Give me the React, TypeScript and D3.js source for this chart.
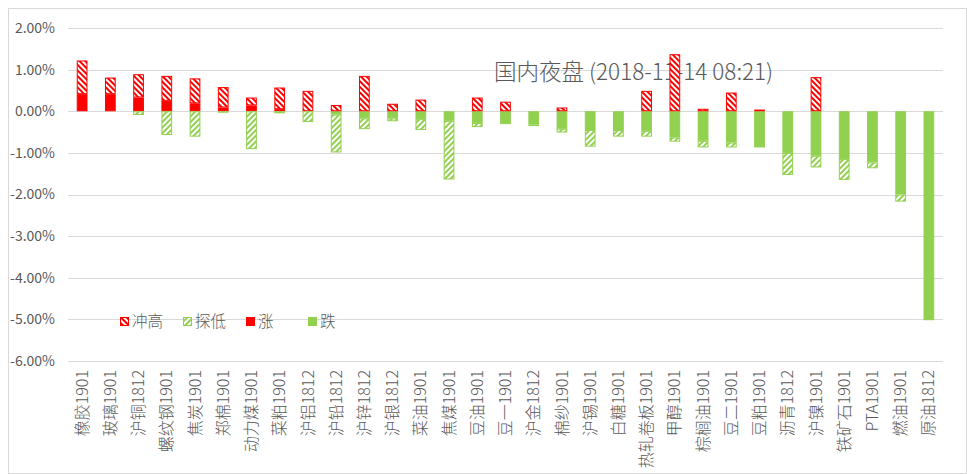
import React, { useRef, useEffect } from 'react';
import * as d3 from 'd3';

const CATEGORIES = [
  '橡胶1901', '玻璃1901', '沪铜1812', '螺纹钢1901', '焦炭1901', '郑棉1901', '动力煤1901', '菜粕1901',
  '沪铝1812', '沪铅1812', '沪锌1812', '沪银1812', '菜油1901', '焦煤1901', '豆油1901', '豆一1901',
  '沪金1812', '棉纱1901', '沪锡1901', '白糖1901', '热轧卷板1901', '甲醇1901', '棕榈油1901', '豆二1901',
  '豆粕1901', '沥青1812', '沪镍1901', '铁矿石1901', 'PTA1901', '燃油1901', '原油1812',
];

// percent values, as stacked by the chart
const RISE = [0.41, 0.41, 0.33, 0.25, 0.19, 0.09, 0.14, 0.05, 0, 0, 0, 0, 0, 0, 0, 0, 0, 0, 0, 0, 0, 0, 0, 0, 0, 0, 0, 0, 0, 0, 0];
const FALL = [0, 0, 0, 0, 0, 0, 0, 0, 0, -0.08, -0.17, -0.17, -0.19, -0.23, -0.28, -0.31, -0.32, -0.42, -0.45, -0.45, -0.47, -0.63, -0.71, -0.75, -0.87, -1.0, -1.07, -1.15, -1.23, -2.0, -5.02];
const HIGH_EXT = [0.81, 0.4, 0.56, 0.6, 0.6, 0.49, 0.19, 0.52, 0.49, 0.15, 0.85, 0.18, 0.28, 0, 0.33, 0.23, 0, 0.09, 0, 0, 0.49, 1.37, 0.06, 0.45, 0.04, 0, 0.82, 0, 0, 0, 0];
const LOW_EXT = [0, 0, -0.09, -0.57, -0.61, -0.02, -0.91, -0.05, -0.26, -0.91, -0.26, -0.07, -0.26, -1.41, -0.1, 0, -0.03, -0.09, -0.4, -0.16, -0.14, -0.1, -0.16, -0.12, 0, -0.53, -0.28, -0.5, -0.14, -0.17, 0];

const Y_TICKS = [2, 1, 0, -1, -2, -3, -4, -5, -6];
const TITLE = '国内夜盘 (2018-11-14 08:21)';

const RED = '#FF0000';
const GREEN = '#92D050';
const TEXT = '#595959';
const FONT = '"Noto Sans CJK SC", "Noto Sans", sans-serif';

const W = 967;
const H = 474;

const App: React.FC = () => {
  const svgRef = useRef<SVGSVGElement>(null);

  useEffect(() => {
    if (!svgRef.current) return;
    const svg = d3.select(svgRef.current);
    svg.selectAll('*').remove();

    const rows = CATEGORIES.map((c, i) => ({
      cat: c, 涨: RISE[i], 跌: FALL[i], 冲高: HIGH_EXT[i], 探低: LOW_EXT[i],
    }));
    const keys = ['涨', '跌', '冲高', '探低'];
    const series = d3.stack<any>().keys(keys).offset(d3.stackOffsetDiverging)(rows);

    const x = d3.scaleBand().domain(CATEGORIES).range([68, 943]).paddingInner(0.62).paddingOuter(0.31);
    const y = d3.scaleLinear().domain([-6, 2]).range([361, 28]);

    const defs = svg.append('defs');
    const hatch = (id: string, color: string, dir: number) => {
      const p = defs.append('pattern')
        .attr('id', id)
        .attr('patternUnits', 'userSpaceOnUse')
        .attr('width', 4)
        .attr('height', 4)
        .attr('patternTransform', `rotate(${dir * 45})`);
      p.append('rect').attr('width', 4).attr('height', 4).attr('fill', '#fff');
      p.append('rect').attr('width', 2).attr('height', 4).attr('fill', color);
    };
    hatch('hatchRed', RED, -1);
    hatch('hatchGreen', GREEN, 1);

    const fills: Record<string, string> = {
      涨: RED, 跌: GREEN, 冲高: 'url(#hatchRed)', 探低: 'url(#hatchGreen)',
    };
    const strokes: Record<string, string> = { 涨: RED, 跌: GREEN, 冲高: RED, 探低: GREEN };

    // chart border
    svg.append('rect')
      .attr('x', 8.5).attr('y', 8.5)
      .attr('width', W - 9).attr('height', H - 9)
      .attr('fill', '#fff').attr('stroke', '#D9D9D9');

    // grid lines
    svg.append('g')
      .selectAll('line')
      .data(Y_TICKS)
      .join('line')
      .attr('x1', 68)
      .attr('x2', 943)
      .attr('y1', d => Math.round(y(d)) + 0.5)
      .attr('y2', d => Math.round(y(d)) + 0.5)
      .attr('stroke', '#D9D9D9')
      .attr('stroke-width', 1);

    // y labels
    svg.append('g')
      .selectAll('text')
      .data(Y_TICKS)
      .join('text')
      .attr('x', 55)
      .attr('y', d => y(d))
      .attr('dy', '0.35em')
      .attr('text-anchor', 'end')
      .attr('fill', TEXT)
      .attr('font-size', '14px')
      .attr('font-family', FONT)
      .text(d => `${d.toFixed(2)}%`);

    // title (drawn under the bars, as in the original)
    svg.append('text')
      .attr('x', 494)
      .attr('y', 80)
      .attr('fill', TEXT)
      .attr('font-size', '22.5px')
      .attr('font-weight', 300)
      .attr('font-family', FONT)
      .text(TITLE);

    // bars
    series.forEach(s => {
      const key = s.key;
      svg.append('g')
        .selectAll('rect')
        .data(s.filter(d => Math.abs(d[1] - d[0]) > 1e-9))
        .join('rect')
        .attr('x', d => x(d.data.cat)! + 0.5)
        .attr('y', d => y(Math.max(d[0], d[1])) + 0.5)
        .attr('width', x.bandwidth() - 1)
        .attr('height', d => Math.max(0.5, Math.abs(y(d[0]) - y(d[1])) - 1))
        .attr('fill', fills[key])
        .attr('stroke', strokes[key])
        .attr('stroke-width', 1);
    });

    // x labels
    svg.append('g')
      .selectAll('text')
      .data(CATEGORIES)
      .join('text')
      .attr('transform', d => `translate(${x(d)! + x.bandwidth() / 2},370) rotate(-90)`)
      .attr('text-anchor', 'end')
      .attr('dy', '0.35em')
      .attr('fill', TEXT)
      .attr('font-size', '16px')
      .attr('font-weight', 300)
      .attr('font-family', FONT)
      .text(d => d);

    // legend
    const legendItems = ['冲高', '探低', '涨', '跌'];
    const legendX = [120, 183, 246, 308];
    const lg = svg.append('g');
    legendItems.forEach((k, i) => {
      lg.append('rect')
        .attr('x', legendX[i] + 0.5)
        .attr('y', 317.5)
        .attr('width', 8)
        .attr('height', 8)
        .attr('fill', fills[k])
        .attr('stroke', strokes[k]);
      lg.append('text')
        .attr('x', legendX[i] + 12)
        .attr('y', 322)
        .attr('dy', '0.35em')
        .attr('fill', TEXT)
        .attr('font-size', '15.5px')
        .attr('font-weight', 300)
        .attr('font-family', FONT)
        .text(k);
    });
  }, []);

  return (
    <svg
      ref={svgRef}
      width={W}
      height={H}
      style={{ position: 'absolute', left: 0, top: 0, background: '#fff' }}
    />
  );
};

export default App;
